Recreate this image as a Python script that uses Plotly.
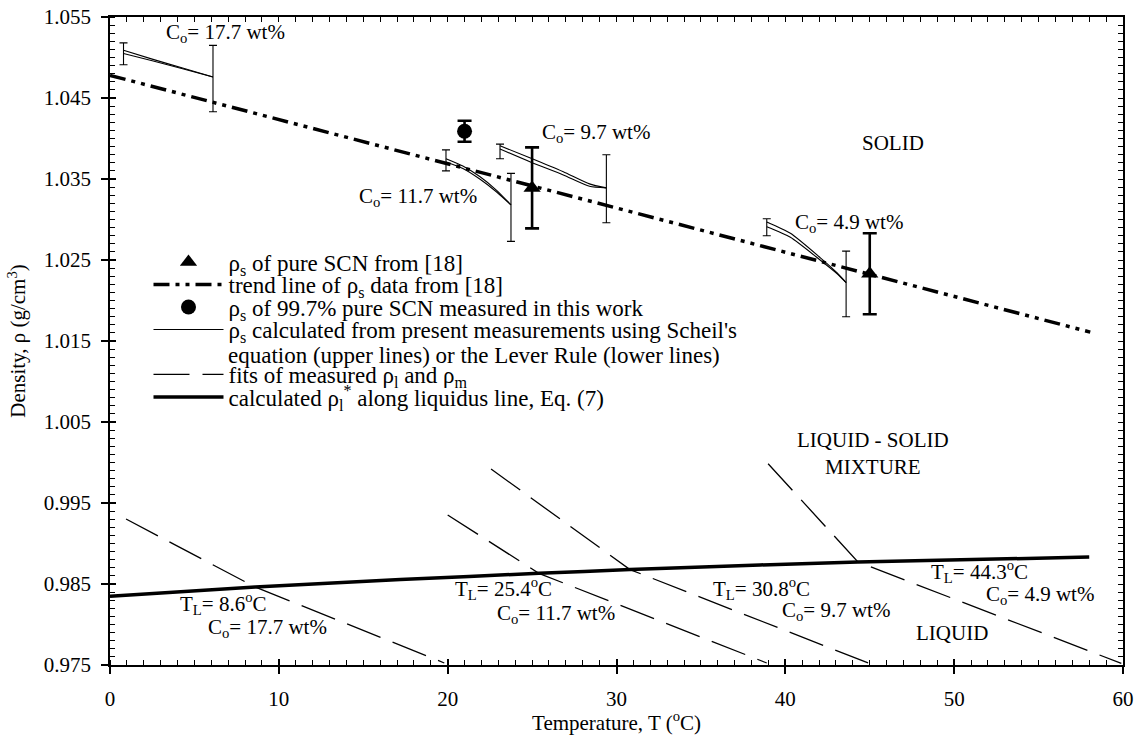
import plotly.graph_objects as go

FONT = "Liberation Serif"

# Solid density of pure SCN from [18]
ref_T = [25, 45]
ref_rho = [1.0339, 1.0233]
ref_err = [0.0050, 0.0050]

# Trend line through the data of [18]
trend_T = [0, 58.06]
trend_rho = [1.0478, 1.0161]

# 99.7% pure SCN measured in this work
meas_T = [21]
meas_rho = [1.0409]
meas_err = [0.0013]

# Solid density from Scheil's equation (upper) and the Lever Rule (lower)
calc_177_T = [0.8, 2.5, 4.3, 6.1]
scheil_177 = [1.0509, 1.0498, 1.0487, 1.0476]
lever_177 = [1.0505, 1.0496, 1.0486, 1.0476]

calc_117_T = [19.9, 20.9, 21.9, 22.9, 23.75]
scheil_117 = [1.0375, 1.0366, 1.0353, 1.0336, 1.0318]
lever_117 = [1.0371, 1.0363, 1.0350, 1.0334, 1.0318]

calc_97_T = [23.1, 24.9, 26.85, 28.4, 29.4]
scheil_97 = [1.0391, 1.0376, 1.0359, 1.0344, 1.0339]
lever_97 = [1.0387, 1.0371, 1.0355, 1.0341, 1.0339]

calc_49_T = [38.9, 40.3, 42.06, 43.07, 43.6]
scheil_49 = [1.0297, 1.0283, 1.0253, 1.0234, 1.0222]
lever_49 = [1.0291, 1.0278, 1.0250, 1.0233, 1.0222]

# Uncertainty ranges at both ends of each calculated curve
bar_T = [0.8, 6.1, 19.9, 23.75, 23.1, 29.4, 38.9, 43.6]
bar_lo = [1.0491, 1.0433, 1.0360, 1.0273, 1.0375, 1.0296, 1.0280, 1.0180]
bar_hi = [1.0518, 1.0515, 1.0386, 1.0357, 1.0393, 1.0380, 1.0301, 1.0261]

# Fits of measured mixture / liquid densities (break at the liquidus)
fit_177_T = [0.95, 8.6, 19.8]
fit_177 = [0.99302, 0.98462, 0.97525]
fit_117_T = [20.0, 25.4, 38.9]
fit_117 = [0.99352, 0.98632, 0.97525]
fit_97_T = [22.57, 30.8, 44.9]
fit_97 = [0.99920, 0.98678, 0.97525]
fit_49_T = [38.98, 44.3, 59.9]
fit_49 = [0.99985, 0.98772, 0.97520]

# Liquid density along the liquidus line, Eq. (7)
liq_T = [0, 8.6, 17.2, 25.4, 30.8, 38.5, 44.3, 58.0]
liq_rho = [0.9835, 0.98462, 0.98555, 0.98632, 0.98678, 0.98735, 0.98772, 0.98832]

# Text labels inside the plot
label_text = [
    "C<sub>o</sub>= 17.7 wt%", "C<sub>o</sub>= 11.7 wt%", "C<sub>o</sub>= 9.7 wt%",
    "C<sub>o</sub>= 4.9 wt%", "SOLID", "LIQUID - SOLID", "MIXTURE", "LIQUID",
    "T<sub>L</sub>= 8.6<sup>o</sup>C", "C<sub>o</sub>= 17.7 wt%",
    "T<sub>L</sub>= 25.4<sup>o</sup>C", "C<sub>o</sub>= 11.7 wt%",
    "T<sub>L</sub>= 30.8<sup>o</sup>C", "C<sub>o</sub>= 9.7 wt%",
    "T<sub>L</sub>= 44.3<sup>o</sup>C", "C<sub>o</sub>= 4.9 wt%",
]
label_T = [6.87, 18.25, 28.8, 43.8, 46.4, 45.2, 45.2, 49.9,
           6.75, 9.3, 23.3, 26.4, 38.6, 43.0, 51.5, 55.1]
label_rho = [1.05302, 1.03278, 1.04068, 1.02957, 1.03944, 1.00278, 0.99944, 0.97900,
             0.98255, 0.97955, 0.98440, 0.98128, 0.98440, 0.98165, 0.98660, 0.98365]

# Legend rows (pixel row of each entry's text line)
legend_rows = [265, 287.5, 310, 332.5, 377.5, 400]
legend_cont_row = 355
legend_cont_text = "equation (upper lines) or the Lever Rule (lower lines)"


def joined(ts, ys):
    """Concatenate several curves into one trace, separated by gaps."""
    xo, yo = [], []
    for t, y in zip(ts, ys):
        xo += list(t) + [None]
        yo += list(y) + [None]
    return xo, yo


fig = go.Figure()

fig.add_trace(go.Scatter(
    x=ref_T, y=ref_rho, mode="markers", legend="legend",
    marker=dict(symbol="triangle-up", size=15, color="black"),
    error_y=dict(type="data", array=ref_err, thickness=2.6, width=7, color="black"),
    name="ρ<sub>s</sub> of pure SCN from [18]",
))

fig.add_trace(go.Scatter(
    x=trend_T, y=trend_rho, mode="lines", legend="legend2",
    line=dict(color="black", width=3.5, dash="16px,6px,4px,6px,4px,6px"),
    name="trend line of ρ<sub>s</sub> data from [18]",
))

fig.add_trace(go.Scatter(
    x=meas_T, y=meas_rho, mode="markers", legend="legend3",
    marker=dict(symbol="circle", size=15, color="black"),
    error_y=dict(type="data", array=meas_err, thickness=2.6, width=7, color="black"),
    name="ρ<sub>s</sub> of 99.7% pure SCN measured in this work",
))

cx, cy = joined(
    [calc_177_T, calc_177_T, calc_117_T, calc_117_T, calc_97_T, calc_97_T, calc_49_T, calc_49_T],
    [scheil_177, lever_177, scheil_117, lever_117, scheil_97, lever_97, scheil_49, lever_49],
)
fig.add_trace(go.Scatter(
    x=cx, y=cy, mode="lines", connectgaps=False, legend="legend4",
    line=dict(color="black", width=1.1, shape="spline", smoothing=0.6),
    name="ρ<sub>s</sub> calculated from present measurements using Scheil's",
))

bar_mid = [(a + b) / 2 for a, b in zip(bar_lo, bar_hi)]
bar_half = [(b - a) / 2 for a, b in zip(bar_lo, bar_hi)]
fig.add_trace(go.Scatter(
    x=bar_T, y=bar_mid, mode="markers",
    marker=dict(size=2, color="rgba(0,0,0,0)"),
    error_y=dict(type="data", array=bar_half, thickness=1.1, width=4, color="black"),
    showlegend=False, hoverinfo="skip",
))

fx, fy = joined([fit_177_T, fit_117_T, fit_97_T, fit_49_T], [fit_177, fit_117, fit_97, fit_49])
fig.add_trace(go.Scatter(
    x=fx, y=fy, mode="lines", connectgaps=False, legend="legend5",
    line=dict(color="black", width=1.3, dash="36px,13px"),
    name="fits of measured ρ<sub>l</sub> and ρ<sub>m</sub>",
))

fig.add_trace(go.Scatter(
    x=liq_T, y=liq_rho, mode="lines", legend="legend6",
    line=dict(color="black", width=3.5, shape="spline", smoothing=0.5),
    name="calculated ρ<sub>l</sub><sup>*</sup> along liquidus line, Eq. (7)",
))

# helper traces so the frame axes (inner ticks, top and right sides) are drawn
for xa, ya in [("x2", "y"), ("x3", "y"), ("x", "y2"), ("x", "y3")]:
    fig.add_trace(go.Scatter(x=[None], y=[None], xaxis=xa, yaxis=ya,
                             showlegend=False, hoverinfo="skip"))

for txt, t, r in zip(label_text, label_T, label_rho):
    fig.add_annotation(x=t, y=r, text=txt, showarrow=False,
                       font=dict(family=FONT, size=21, color="black"))

xr = [0, 60]
yr = [0.975, 1.055]
tickfont = dict(family=FONT, size=21, color="black")

MARGIN_L, MARGIN_T, PLOT_W, PLOT_H = 110, 17, 1013, 648
LEG_FONT = 23
LEG_X = 0.038
LEG_OFFSET = 24.5  # distance from a legend box top to its text line


def legend_box(row_px):
    return dict(x=LEG_X, y=1 - (row_px - LEG_OFFSET - MARGIN_T) / PLOT_H,
                xanchor="left", yanchor="top",
                bgcolor="rgba(0,0,0,0)", borderwidth=0,
                font=dict(family=FONT, size=LEG_FONT, color="black"),
                itemwidth=70, tracegroupgap=0)


legends = {("legend" if i == 0 else f"legend{i + 1}"): legend_box(r)
           for i, r in enumerate(legend_rows)}

# second text line of the two-line legend entry
fig.add_annotation(
    xref="paper", yref="paper", x=(226 - MARGIN_L) / PLOT_W,
    y=1 - (legend_cont_row - MARGIN_T) / PLOT_H,
    xanchor="left", yanchor="middle", showarrow=False,
    text=legend_cont_text, font=dict(family=FONT, size=LEG_FONT, color="black"),
)

fig.update_layout(
    width=1141, height=735,
    margin=dict(l=MARGIN_L, r=18, t=MARGIN_T, b=70, autoexpand=False),
    paper_bgcolor="white", plot_bgcolor="white",
    font=dict(family=FONT, size=21, color="black"),
    showlegend=True,
    **legends,
    xaxis=dict(range=xr, showgrid=False, zeroline=False, automargin=False,
               showline=True, linecolor="black", linewidth=1.6,
               ticks="outside", ticklen=7, tickwidth=1.5, tickcolor="black",
               tick0=0, dtick=10, tickfont=tickfont, ticklabelstandoff=7,
               minor=dict(ticks="inside", ticklen=5, dtick=1, tickwidth=1, tickcolor="black"),
               title=dict(text="Temperature, T (<sup>o</sup>C)", font=tickfont, standoff=15)),
    xaxis2=dict(range=xr, overlaying="x", anchor="y", side="bottom", automargin=False,
                showgrid=False, zeroline=False, showline=False,
                ticks="inside", ticklen=6, tickwidth=1.5, tickcolor="black",
                tick0=0, dtick=10, showticklabels=False),
    xaxis3=dict(range=xr, overlaying="x", anchor="y", side="top", automargin=False,
                showgrid=False, zeroline=False,
                showline=True, linecolor="black", linewidth=1.6,
                ticks="inside", ticklen=5, tickwidth=1, tickcolor="black",
                tick0=0, dtick=1, showticklabels=False),
    yaxis=dict(range=yr, showgrid=False, zeroline=False, automargin=False,
               showline=True, linecolor="black", linewidth=1.6,
               ticks="outside", ticklen=7, tickwidth=1.5, tickcolor="black",
               tick0=0.975, dtick=0.01, tickformat=".3f", tickfont=tickfont,
               ticklabelstandoff=6,
               minor=dict(ticks="inside", ticklen=5, dtick=0.001, tickwidth=1, tickcolor="black"),
               title=dict(text="Density, ρ (g/cm<sup>3</sup>)", font=tickfont, standoff=12)),
    yaxis2=dict(range=yr, overlaying="y", anchor="x", side="left", automargin=False,
                showgrid=False, zeroline=False, showline=False,
                ticks="inside", ticklen=6, tickwidth=1.5, tickcolor="black",
                tick0=0.975, dtick=0.01, showticklabels=False),
    yaxis3=dict(range=yr, overlaying="y", anchor="x", side="right", automargin=False,
                showgrid=False, zeroline=False,
                showline=True, linecolor="black", linewidth=1.6,
                ticks="inside", ticklen=5, tickwidth=1, tickcolor="black",
                tick0=0.975, dtick=0.001, showticklabels=False),
)

fig.write_html("out.html")
